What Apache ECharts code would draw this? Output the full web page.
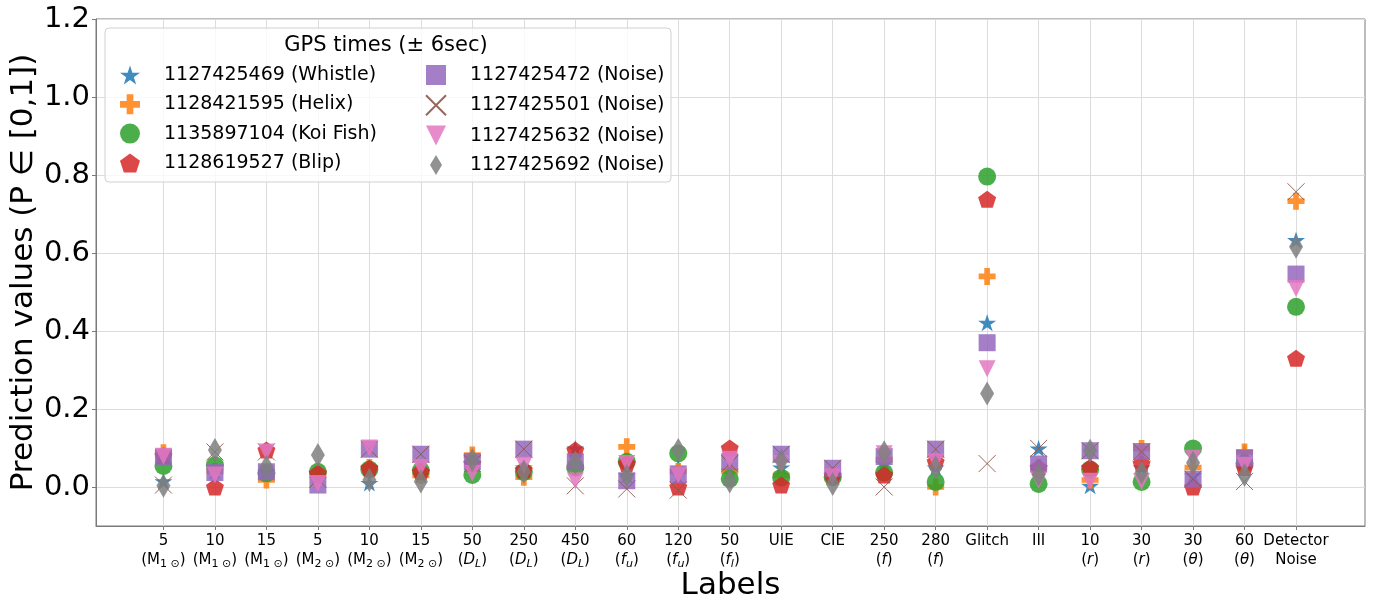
<!DOCTYPE html>
<html>
<head>
<meta charset="utf-8">
<script src="https://cdn.jsdelivr.net/npm/echarts@6/dist/echarts.min.js"></script>
<style>
  html, body { margin: 0; padding: 0; background: #ffffff; }
  #chart { width: 1375px; height: 598px; }
</style>
</head>
<body>
<div id="chart"></div>
<script>
// Category labels along the x axis: value line and unit line
const labelTop = ['5', '10', '15', '5', '10', '15', '50', '250', '450', '60', '120', '50',
  'UIE', 'CIE', '250', '280', 'Glitch', 'III', '10', '30', '30', '60', 'Detector'];
const labelUnit = ['M1', 'M1', 'M1', 'M2', 'M2', 'M2', 'DL', 'DL', 'DL', 'fu', 'fu', 'fl',
  '', '', 'f', 'f', '', '', 'r', 'r', 'th', 'th', 'Noise'];
const yTicks = [0.0, 0.2, 0.4, 0.6, 0.8, 1.0, 1.2];

// Legend entries (GPS time and glitch class)
const seriesNames = [
  '1127425469 (Whistle)', '1128421595 (Helix)', '1135897104 (Koi Fish)', '1128619527 (Blip)',
  '1127425472 (Noise)', '1127425501 (Noise)', '1127425632 (Noise)', '1127425692 (Noise)'
];

// Prediction values per label, one array per GPS time
const whistle  = [0.015, 0.040, 0.040, 0.030, 0.010, 0.030, 0.060, 0.050, 0.099, 0.030, 0.050, 0.040, 0.050, 0.030, 0.060, 0.050, 0.421, 0.099, 0.003, 0.050, 0.030, 0.090, 0.633];
const helix    = [0.088, 0.040, 0.018, 0.030, 0.050, 0.030, 0.082, 0.025, 0.050, 0.103, 0.040, 0.040, 0.030, 0.025, 0.070, 0.000, 0.540, 0.050, 0.018, 0.099, 0.050, 0.090, 0.733];
const koiFish  = [0.054, 0.056, 0.035, 0.039, 0.045, 0.042, 0.031, 0.039, 0.050, 0.065, 0.086, 0.021, 0.024, 0.025, 0.037, 0.013, 0.796, 0.008, 0.045, 0.013, 0.099, 0.060, 0.462];
const blip     = [0.080, 0.000, 0.095, 0.035, 0.048, 0.040, 0.060, 0.044, 0.095, 0.060, 0.000, 0.100, 0.005, 0.030, 0.031, 0.065, 0.738, 0.050, 0.050, 0.060, 0.000, 0.050, 0.330];
const noise472 = [0.077, 0.037, 0.039, 0.005, 0.097, 0.084, 0.065, 0.097, 0.065, 0.016, 0.031, 0.065, 0.084, 0.048, 0.078, 0.097, 0.370, 0.059, 0.093, 0.091, 0.020, 0.074, 0.546];
const noise501 = [0.005, 0.090, 0.090, 0.020, 0.097, 0.084, 0.060, 0.097, 0.003, -0.005, -0.008, 0.060, 0.084, 0.048, 0.000, 0.097, 0.060, 0.099, 0.093, 0.090, 0.020, 0.014, 0.757];
const noise632 = [0.079, 0.031, 0.090, 0.009, 0.100, 0.050, 0.035, 0.056, 0.016, 0.060, 0.031, 0.071, 0.060, 0.026, 0.085, 0.065, 0.303, 0.018, 0.015, 0.014, 0.074, 0.056, 0.509];
const noise692 = [0.003, 0.095, 0.052, 0.082, 0.018, 0.014, 0.069, 0.039, 0.063, 0.028, 0.095, 0.014, 0.067, 0.008, 0.089, 0.050, 0.240, 0.032, 0.093, 0.037, 0.062, 0.031, 0.616];

const seriesValues = [whistle, helix, koiFish, blip, noise472, noise501, noise632, noise692];

// Marker shapes
function polygonPath(n, rOuter, rInner) {
  const pts = [];
  const steps = rInner ? n * 2 : n;
  for (let k = 0; k < steps; k++) {
    const a = -Math.PI / 2 + k * (2 * Math.PI / steps);
    const r = rInner && (k % 2 === 1) ? rInner : rOuter;
    pts.push((r * Math.cos(a)).toFixed(4) + ',' + (r * Math.sin(a)).toFixed(4));
  }
  return 'path://M' + pts.join(' L') + ' Z';
}
const STAR = polygonPath(5, 1, 0.381966);
const PENTAGON = polygonPath(5, 1, 0);
const PLUS = 'path://M-1,-3 L1,-3 L1,-1 L3,-1 L3,1 L1,1 L1,3 L-1,3 L-1,1 L-3,1 L-3,-1 L-1,-1 Z';
const SQUARE = 'path://M0,0 L1,0 L1,1 L0,1 Z';
const CROSS = 'path://M-1,-1 L1,1 M1,-1 L-1,1';
const TRI_DOWN = 'path://M-1,-1 L1,-1 L0,1 Z';
const THIN_DIAMOND = 'path://M0,-1 L0.6,0 L0,1 L-0.6,0 Z';

const markers = [
  { symbol: STAR, size: [18, 17], color: '#1f77b4' },
  { symbol: PLUS, size: [17, 17], color: '#ff7f0e' },
  { symbol: 'circle', size: 18, color: '#2ca02c' },
  { symbol: PENTAGON, size: [18, 17], color: '#d62728' },
  { symbol: SQUARE, size: [17, 17], color: '#9467bd' },
  { symbol: CROSS, size: [17, 17], color: '#8c564b', stroke: true },
  { symbol: TRI_DOWN, size: [17, 17], color: '#e377c2' },
  { symbol: THIN_DIAMOND, size: [14, 24], color: '#7f7f7f' }
];

const FONT = 'DejaVu Sans';

// Second-line label markup for each unit key
const unitText = {
  M1: '{t|(M}{s|1 \u2299}{t|)}',
  M2: '{t|(M}{s|2 \u2299}{t|)}',
  DL: '{t|(}{i|D}{si|L}{t|)}',
  fu: '{t|(}{i|f}{si|u}{t|)}',
  fl: '{t|(}{i|f}{si|l}{t|)}',
  f: '{t|(}{i|f}{t|)}',
  r: '{t|(}{i|r}{t|)}',
  th: '{t|(}{i|\u03b8}{t|)}',
  Noise: '{t|Noise}'
};

const categoryIdx = labelTop.map((_, i) => i);

const series = seriesValues.map((vals, s) => {
  const m = markers[s];
  return {
    name: seriesNames[s],
    type: 'scatter',
    symbol: m.symbol,
    symbolSize: m.size,
    data: vals.map((v, i) => [i, v]),
    clip: false,
    z: 2 + s * 0.01,
    itemStyle: m.stroke
      ? { color: 'rgba(0,0,0,0)', borderColor: m.color, borderWidth: 1, opacity: 0.9 }
      : { color: m.color, opacity: 0.85 },
    emphasis: { disabled: true }
  };
});

const legendCommon = {
  orient: 'vertical',
  padding: 0,
  itemWidth: 20,
  itemHeight: 20,
  itemGap: 9.3,
  selectedMode: false,
  symbolKeepAspect: true,
  textStyle: { fontFamily: FONT, fontSize: 19, color: '#000', lineHeight: 20, padding: [0, 0, 0, 19] },
  top: 65
};

const chart = echarts.init(document.getElementById('chart'), null, { renderer: 'canvas' });
chart.setOption({
  animation: false,
  backgroundColor: '#ffffff',
  grid: {
    left: 96, right: 10, top: 19, bottom: 72,
    containLabel: false,
    outerBoundsMode: 'none',
    show: true, borderColor: '#7a7a7a', borderWidth: 1, backgroundColor: 'transparent'
  },
  xAxis: {
    type: 'value',
    min: -1.31,
    max: 23.34,
    name: 'Labels',
    nameLocation: 'middle',
    nameGap: 44,
    nameMoveOverlap: false,
    nameTextStyle: { fontFamily: FONT, fontSize: 31, color: '#000' },
    axisLine: { show: true, onZero: false, lineStyle: { color: '#7a7a7a' } },
    axisTick: { show: true, length: 4, customValues: categoryIdx, lineStyle: { color: '#7a7a7a' } },
    splitLine: { show: true, lineStyle: { color: '#dcdcdc', width: 1 } },
    axisLabel: {
      customValues: categoryIdx,
      margin: 6,
      color: '#000',
      fontFamily: FONT,
      fontSize: 15,
      lineHeight: 19,
      formatter: function (v) {
        const i = Math.round(v);
        const u = labelUnit[i];
        const top = '{t|' + labelTop[i] + '}';
        return u ? top + '\n' + unitText[u] : top;
      },
      rich: {
        t: { fontFamily: FONT, fontSize: 15, color: '#000', lineHeight: 19 },
        s: { fontFamily: FONT, fontSize: 11, color: '#000', lineHeight: 19, verticalAlign: 'bottom', padding: [6, 0, 0, 0] },
        i: { fontFamily: FONT, fontSize: 15, fontStyle: 'italic', color: '#000', lineHeight: 19 },
        si: { fontFamily: FONT, fontSize: 11, fontStyle: 'italic', color: '#000', lineHeight: 19, verticalAlign: 'bottom', padding: [6, 0, 0, 0] }
      }
    }
  },
  yAxis: {
    type: 'value',
    min: -0.1,
    max: 1.2,
    name: 'Prediction values (P \u2208 [0,1])',
    nameLocation: 'middle',
    nameGap: 57,
    nameMoveOverlap: false,
    nameTextStyle: { fontFamily: FONT, fontSize: 31, color: '#000' },
    axisLine: { show: true, onZero: false, lineStyle: { color: '#7a7a7a' } },
    axisTick: { show: true, length: 4, customValues: yTicks, lineStyle: { color: '#7a7a7a' } },
    splitLine: { show: true, lineStyle: { color: '#dcdcdc', width: 1 } },
    axisLabel: {
      customValues: yTicks,
      margin: 6,
      color: '#000',
      fontFamily: FONT,
      fontSize: 29,
      formatter: v => v.toFixed(1)
    }
  },
  legend: [
    Object.assign({}, legendCommon, { left: 120, data: seriesNames.slice(0, 4) }),
    Object.assign({}, legendCommon, { left: 425, data: seriesNames.slice(4, 8) })
  ],
  graphic: [
    {
      type: 'rect',
      z: 3,
      shape: { x: 105, y: 28, width: 566, height: 154, r: 4 },
      style: { fill: 'rgba(255,255,255,0.8)', stroke: '#d0d0d0', lineWidth: 1 }
    },
    {
      type: 'text',
      z: 4,
      x: 386, y: 46,
      style: {
        text: 'GPS times (\u00b1 6sec)',
        fontFamily: FONT, fontSize: 21, fill: '#000',
        align: 'center', verticalAlign: 'middle'
      }
    }
  ],
  series: series
});
</script>
</body>
</html>
